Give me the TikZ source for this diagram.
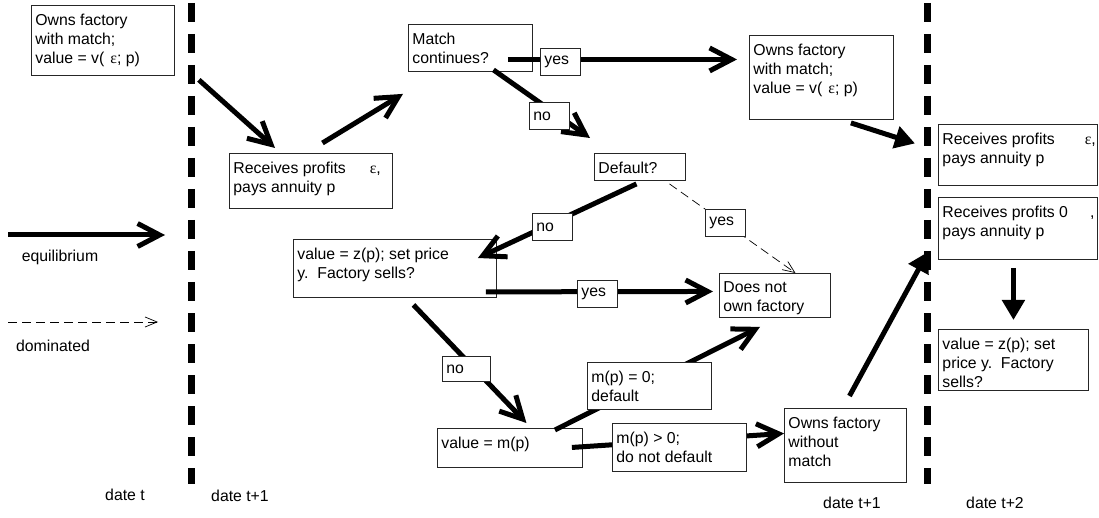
\documentclass[tikz,border=0pt]{standalone}
\usepackage{fontspec}
\setmainfont{Liberation Sans}
\newfontfamily\symfont{Liberation Serif}
\usetikzlibrary{arrows.meta,calc}
\newcommand{\eps}{{\symfont ε}}
\newcommand{\boxtext}[3]{\parbox[t][#2][t]{#1}{\raggedright\vspace{8.5pt}#3}}

\begin{document}
\begin{tikzpicture}[x=1pt,y=-1pt,font=\fontsize{15.8}{19}\selectfont,
  stage/.style={draw=black!85,line width=0.9pt,anchor=north west,inner xsep=4pt,inner ysep=0pt},
  cond/.style={stage,fill=white},
  tag/.style={draw=black!85,fill=white,line width=0.9pt,anchor=north west,inner xsep=4pt,inner ysep=0pt,text width=32pt,minimum height=27pt,align=left},
  eqm/.style={line width=5pt,-{Straight Barb[length=22pt,width=23pt,line width=5pt]}},
  push/.style={line width=5pt,-{Triangle[length=20pt,width=22pt]}},
  dom/.style={line width=0.7pt,dash pattern=on 9pt off 5pt,-{Straight Barb[length=12pt,width=10pt,line width=0.7pt]}},
  period/.style={line width=7pt,dash pattern=on 19pt off 12pt}]
  \useasboundingbox (0,0) rectangle (1099,518);

  % dates
  \draw[period] (191,3) -- (191,484);
  \draw[period] (927,3) -- (927,484);
  \node (dt) at (125,495) {date t};
  \node (dt1) at (240,496) {date t+1};
  \node (dt1b) at (852,503) {date t+1};
  \node (dt2) at (995,503) {date t+2};

  % legend
  \coordinate (eqA) at (8,235);
  \coordinate (eqB) at (165,235);
  \draw[eqm] (eqA) -- (eqB);
  \node (eqtxt) at (60,257) {equilibrium};
  \coordinate (domA) at (8,322);
  \coordinate (domB) at (158,322);
  \draw[dom] (domA) -- (domB);
  \node (domtxt) at (53,346) {dominated};

  % states
  \node[stage] (ofw) at (31,5) {\boxtext{135pt}{70pt}{Owns factory\\with match;\\value = v(\hspace{6pt}\eps; p)}};
  \node[stage] (rec) at (229,153) {\boxtext{155pt}{55pt}{\mbox{Receives profits\hspace{24pt}\eps,}\\pays annuity p}};
  \node[stage] (mc) at (408,24) {\boxtext{116pt}{47pt}{Match\\continues?}};
  \node[stage] (ofm) at (749,35) {\boxtext{136pt}{84pt}{Owns factory\\with match;\\value = v(\hspace{6pt}\eps; p)}};
  \node[stage] (dft) at (594,153) {\boxtext{83pt}{27pt}{Default?}};
  \node[stage] (zp) at (293,239) {\boxtext{195pt}{58pt}{value = z(p); set price\\y.~~Factory sells?}};
  \node[stage] (dno) at (719,273) {\boxtext{103pt}{44pt}{Does not\\own factory}};
  \node[stage] (mp) at (437,428) {\boxtext{137pt}{39pt}{value = m(p)}};
  \node[stage] (ofn) at (784,408) {\boxtext{114pt}{74pt}{Owns factory\\without\\match}};
  \node[stage] (rr1) at (938,124) {\boxtext{151pt}{61pt}{\mbox{Receives profits\hspace{30pt}\eps,}\\pays annuity p}};
  \node[stage] (rr2) at (938,197) {\boxtext{151pt}{62pt}{\mbox{Receives profits 0\hspace{22pt},}\\pays annuity p}};
  \node[stage] (zr) at (938,329) {\boxtext{142pt}{61pt}{value = z(p); set\\price y.~~Factory\\sells?}};

  % moves
  \draw[eqm] ($(ofw.south east)+(24,4)$) -- ($(rec.north west)+(46,-5)$);
  \draw[eqm] ($(rec.north)+(11.5,-10)$) -- ($(mc.south west)+(-5,22)$);
  \draw[eqm] ($(mc.east)+(-25,11.5)$) -- ($(ofm.west)+(-12,-18)$);
  \draw[eqm] ($(mc.south)+(23,-2)$) -- ($(dft.north west)+(-4,-15)$);
  \draw[push] ($(ofm.south east)+(-43,3)$) -- ($(rr1.west)+(-23,-11.5)$);
  \draw[eqm] ($(dft.south)+(-3.5,3)$) -- ($(zp.north east)+(-19,19)$);
  \draw[dom] ($(dft.south)+(29.5,3)$) -- ($(dno.north)+(20.5,0)$);
  \draw[eqm] ($(zp.south east)+(-11,-6)$) -- ($(dno.west)+(-6,-4)$);
  \draw[eqm] ($(zp.south)+(18.5,7)$) -- ($(mp.north)+(16.5,-5)$);
  \draw[eqm] ($(mp.north east)+(-28,2)$) -- ($(dno.south west)+(41,9)$);
  \draw[eqm] ($(mp.east)+(-11,-0.5)$) -- ($(ofn.west)+(0,-12)$);
  \draw[push] ($(ofn.north)+(4,-12)$) -- ($(rr2.south west)+(-10,-8)$);
  \draw[push] ($(rr2.south)+(-4.5,8)$) -- ($(zr.north)+(0,-9)$);

  % answers
  \node[cond] (mz) at (587,362) {\boxtext{116pt}{47pt}{m(p) = 0;\\default}};
  \node[cond] (mpos) at (612,423) {\boxtext{126pt}{48pt}{m(p) > 0;\\do not default}};
  \node[tag] (yesA) at (540,48) {yes};
  \node[tag] (noA) at (529,102) {no};
  \node[tag] (noB) at (532,213) {no};
  \node[tag] (yesB) at (705,209) {yes};
  \node[tag] (yesC) at (577,280) {yes};
  \node[tag,text width=40pt,minimum height=25pt] (noC) at (442,356) {no};
\end{tikzpicture}
\end{document}
